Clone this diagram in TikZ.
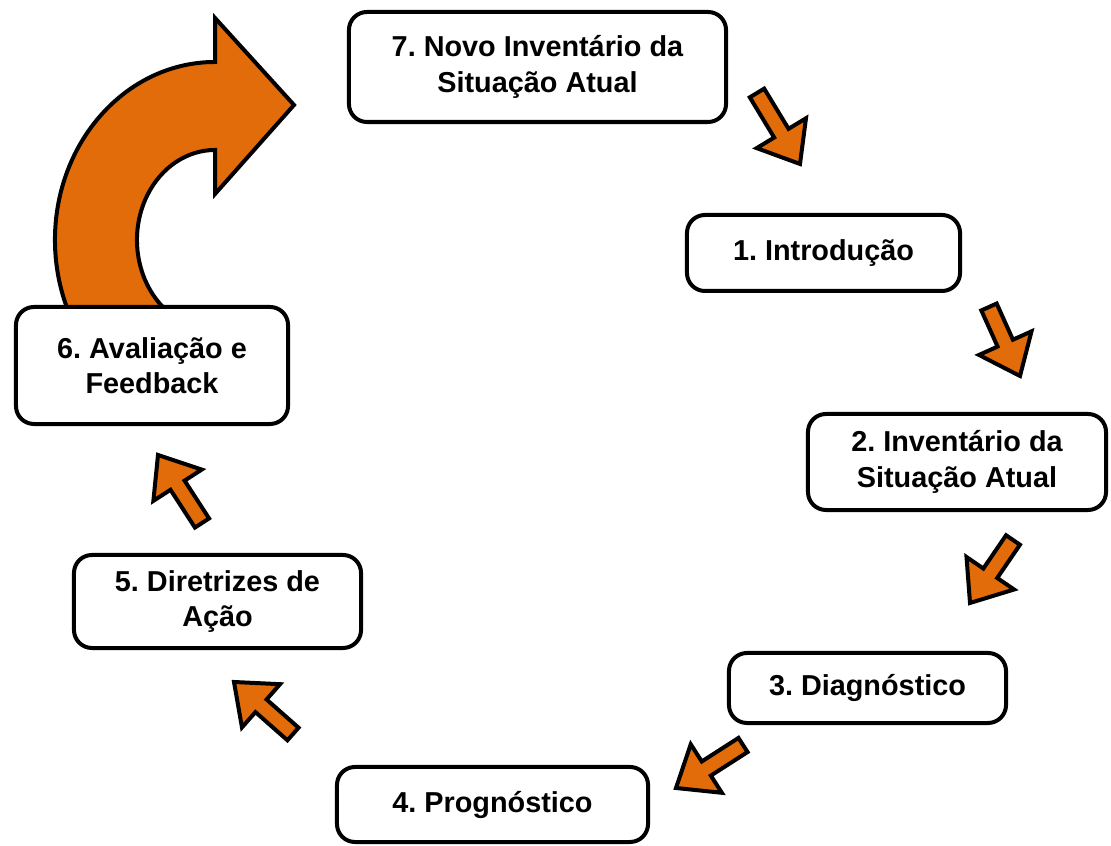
\documentclass[tikz,border=0pt]{standalone}
\usepackage{fontspec}
\setmainfont{Liberation Sans}
\usetikzlibrary{calc}
\definecolor{laranja}{HTML}{E36C0A}
\frenchspacing

% seta de bloco da cauda #1 ate a ponta #2
\newcommand{\seta}[2]{%
  \coordinate (pesc) at ($(#2)!0.9cm!(#1)$);
  \draw[setaL] ($(#1)!0.21cm!90:(#2)$) -- ($(pesc)!0.21cm!-90:(#1)$) -- ($(pesc)!0.72cm!-90:(#1)$)
    -- (#2) -- ($(pesc)!0.72cm!90:(#1)$) -- ($(pesc)!0.21cm!90:(#1)$) -- ($(#1)!0.21cm!-90:(#2)$) -- cycle;}

\begin{document}
\begin{tikzpicture}[x=0.025cm,y=0.025cm,
  etapa/.style={draw=black,line width=0.1cm,rounded corners=0.45cm,fill=white,align=center,inner sep=0pt,
    font=\fontsize{20.5}{25}\selectfont\bfseries},
  setaL/.style={draw=black,fill=laranja,line width=0.1cm,line join=miter}]
\useasboundingbox (0,0) rectangle (1111,846);

% seta curva de retorno (a ponta de baixo fica sob a etapa 6)
\draw[setaL] (215,784) arc[start angle=90,end angle=240,x radius=4cm,y radius=4.45cm]
  -- ($(215,606)+(240:1.95cm and 2.25cm)$) arc[start angle=240,end angle=90,x radius=1.95cm,y radius=2.25cm]
  -- (215,652) -- (294,741) -- (215,828) -- cycle;

\node[etapa,minimum width=9.425cm,minimum height=2.75cm] (e7) at (537.5,779) {7. Novo Inventário da\\Situação Atual};
\node[etapa,minimum width=6.825cm,minimum height=1.9cm] (e1) at (823.5,593) {1. Introdução};
\node[etapa,minimum width=7.45cm,minimum height=2.4cm] (e2) at (957,384) {2. Inventário da\\Situação Atual};
\node[etapa,minimum width=6.925cm,minimum height=1.75cm] (e3) at (867.5,158) {3. Diagnóstico};
\node[etapa,minimum width=7.775cm,minimum height=1.875cm] (e4) at (492.5,41.5) {4. Prognóstico};
\node[etapa,minimum width=7.175cm,minimum height=2.325cm] (e5) at (217.5,244.5) {5. Diretrizes de\\Ação};
\node[etapa,minimum width=6.8cm,minimum height=2.925cm] (e6) at (152,480.5) {6. Avaliação e\\Feedback};

\coordinate (c71) at (757,753); \coordinate (p71) at (800,682);
\coordinate (c12) at (989,539); \coordinate (p12) at (1020,470);
\coordinate (c23) at (1013,306); \coordinate (p23) at (970,243);
\coordinate (c34) at (743,101); \coordinate (p34) at (676,58);
\coordinate (c45) at (293,112); \coordinate (p45) at (234,164);
\coordinate (c56) at (202,323); \coordinate (p56) at (158,391);

\seta{c71}{p71}
\seta{c12}{p12}
\seta{c23}{p23}
\seta{c34}{p34}
\seta{c45}{p45}
\seta{c56}{p56}
\end{tikzpicture}
\end{document}
